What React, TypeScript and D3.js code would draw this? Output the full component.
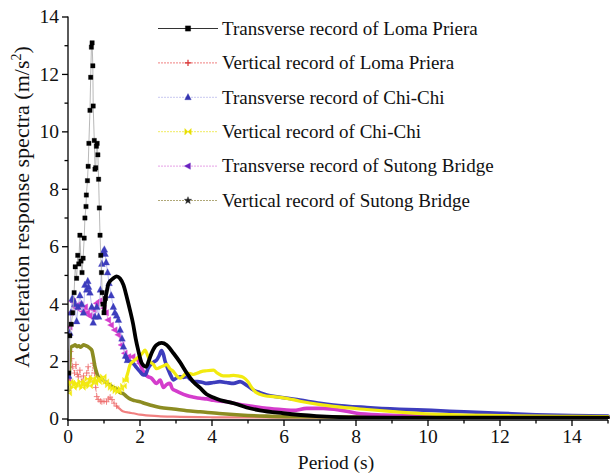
import React from 'react';
import * as d3 from 'd3';

type Pt = [number, number];

const periodTicks = [0, 2, 4, 6, 8, 10, 12, 14];
const accelTicks = [0, 2, 4, 6, 8, 10, 12, 14];
const periodMinor = [1, 3, 5, 7, 9, 11, 13, 15];
const accelMinor = [1, 3, 5, 7, 9, 11, 13];

const legendLabels = [
  'Transverse record of Loma Priera',
  'Vertical record of Loma Priera',
  'Transverse record of Chi-Chi',
  'Vertical record of Chi-Chi',
  'Transverse record of Sutong Bridge',
  'Vertical record of Sutong Bridge',
];

const lomaTransverse: Pt[] = [
  [0.02, 1.6], [0.05, 2.9], [0.09, 3.3], [0.13, 3.7], [0.17, 4.4], [0.2, 5.3], [0.24, 4.9], [0.27, 5.7],
  [0.3, 5.4], [0.33, 6.4], [0.36, 5.5], [0.39, 5.1], [0.42, 5.6], [0.45, 6.3], [0.47, 7.0], [0.5, 7.4],
  [0.51, 7.8], [0.54, 8.3], [0.56, 8.8], [0.58, 9.6], [0.61, 10.75], [0.63, 11.9], [0.65, 12.95], [0.67, 13.1],
  [0.69, 12.3], [0.7, 10.9], [0.73, 9.7], [0.75, 8.7], [0.77, 8.75], [0.79, 9.5], [0.81, 9.6], [0.83, 9.2],
  [0.85, 8.35], [0.87, 7.35], [0.89, 6.4], [0.91, 5.7], [0.93, 5.1], [0.95, 4.4], [0.97, 4.0], [1.0, 3.7],
  [1.04, 4.2], [1.07, 4.4], [1.12, 4.7], [1.17, 4.8], [1.26, 4.9], [1.35, 4.97], [1.44, 4.9], [1.54, 4.67],
  [1.63, 4.26], [1.72, 3.8], [1.81, 3.3], [1.88, 2.8], [1.95, 2.4], [2.05, 1.94], [2.17, 1.82], [2.25, 2.05],
  [2.32, 2.29], [2.46, 2.58], [2.6, 2.65], [2.74, 2.58], [2.93, 2.29], [3.11, 1.98], [3.3, 1.6], [3.48, 1.3],
  [3.67, 1.08], [3.85, 0.86], [4.04, 0.75], [4.22, 0.66], [4.6, 0.55], [4.96, 0.4], [5.33, 0.3], [5.98, 0.2],
  [6.9, 0.1], [7.8, 0.06], [9, 0.05], [12, 0.05], [15, 0.05],
];

const lomaVertical: Pt[] = [
  [0.01, 1.0], [0.04, 1.8], [0.07, 2.35], [0.1, 2.1], [0.13, 1.82], [0.18, 1.6], [0.22, 1.9], [0.26, 1.55],
  [0.29, 1.47], [0.33, 1.7], [0.38, 1.3], [0.43, 1.5], [0.47, 1.18], [0.52, 1.6], [0.56, 1.82], [0.6, 1.4],
  [0.64, 1.36], [0.7, 1.94], [0.74, 1.6], [0.77, 1.1], [0.8, 0.78], [0.84, 0.68], [0.9, 0.62], [0.94, 0.6],
  [1.0, 0.62], [1.07, 0.6], [1.12, 0.7], [1.17, 0.76], [1.22, 0.68], [1.28, 0.55], [1.35, 0.45], [1.44, 0.35],
  [1.54, 0.26], [1.7, 0.22], [1.81, 0.2], [2.0, 0.15], [2.5, 0.1], [2.93, 0.08], [4, 0.06], [6, 0.05], [15, 0.04],
];

const chiChiTransverse: Pt[] = [
  [0.02, 1.5], [0.05, 3.0], [0.08, 3.7], [0.12, 4.2], [0.15, 4.15], [0.19, 4.0], [0.24, 3.4], [0.28, 3.9],
  [0.33, 4.3], [0.38, 4.0], [0.43, 3.7], [0.47, 4.67], [0.52, 4.5], [0.55, 4.8], [0.57, 4.6], [0.61, 4.4],
  [0.66, 3.9], [0.7, 3.35], [0.75, 3.56], [0.8, 3.9], [0.85, 3.56], [0.9, 4.5], [0.94, 5.4], [0.98, 5.83],
  [1.01, 5.9], [1.03, 5.75], [1.06, 5.45], [1.1, 5.1], [1.14, 4.73], [1.2, 4.3], [1.26, 3.9], [1.3, 3.7],
  [1.35, 3.6], [1.4, 3.45], [1.45, 3.1], [1.5, 2.8], [1.54, 2.52], [1.6, 2.2], [1.65, 2.05], [1.73, 2.0],
  [1.81, 1.94], [1.9, 1.8], [2.0, 1.65], [2.07, 1.55], [2.14, 1.53], [2.22, 1.75], [2.3, 1.9], [2.4, 2.0],
  [2.46, 2.05], [2.53, 2.2], [2.6, 2.38], [2.65, 2.25], [2.7, 2.0], [2.79, 1.7], [2.86, 1.5], [2.93, 1.36],
  [3.0, 1.42], [3.11, 1.47], [3.2, 1.45], [3.3, 1.47], [3.4, 1.38], [3.48, 1.3], [3.6, 1.3], [3.75, 1.27],
  [3.85, 1.24], [4.04, 1.27], [4.22, 1.3], [4.4, 1.27], [4.6, 1.24], [4.78, 1.3], [4.96, 1.18], [5.15, 1.01],
  [5.33, 0.92], [5.52, 0.84], [6.0, 0.74], [6.44, 0.66], [7.0, 0.55], [7.37, 0.49], [8.3, 0.4], [9.2, 0.34],
  [10.1, 0.3], [11, 0.25], [12, 0.2], [13, 0.15], [14, 0.12], [15, 0.1],
];

const chiChiVertical: Pt[] = [
  [0.02, 0.9], [0.06, 1.3], [0.1, 1.25], [0.15, 1.1], [0.2, 1.2], [0.25, 1.25], [0.3, 1.15], [0.35, 1.3],
  [0.4, 1.1], [0.45, 1.2], [0.5, 1.25], [0.55, 1.4], [0.6, 1.15], [0.65, 1.3], [0.7, 1.42], [0.75, 1.25],
  [0.8, 1.36], [0.85, 1.3], [0.9, 1.4], [0.98, 1.47], [1.05, 1.3], [1.12, 1.18], [1.2, 1.1], [1.26, 1.05],
  [1.33, 0.98], [1.4, 0.95], [1.47, 1.05], [1.54, 1.15], [1.6, 1.35], [1.66, 1.6], [1.72, 1.88], [1.8, 2.0],
  [1.9, 2.1], [2.0, 2.2], [2.07, 2.3], [2.14, 2.4], [2.2, 2.25], [2.28, 2.0], [2.37, 1.9], [2.46, 1.75],
  [2.56, 1.8], [2.65, 1.85], [2.74, 1.9], [2.83, 1.75], [2.93, 1.65], [3.02, 1.5], [3.11, 1.42], [3.2, 1.5],
  [3.3, 1.6], [3.4, 1.58], [3.48, 1.55], [3.6, 1.6], [3.7, 1.65], [3.85, 1.68], [4.04, 1.7], [4.15, 1.6],
  [4.31, 1.5], [4.45, 1.5], [4.6, 1.52], [4.72, 1.5], [4.87, 1.45], [5.0, 1.3], [5.1, 1.1], [5.2, 0.95],
  [5.33, 0.86], [5.5, 0.8], [5.7, 0.78], [6.07, 0.72], [6.44, 0.62], [7.0, 0.5], [7.37, 0.44], [8.3, 0.33],
  [9.2, 0.24], [10.1, 0.17], [11, 0.14], [12, 0.12], [13, 0.1], [14, 0.09], [15, 0.08],
];

const sutongTransverse: Pt[] = [
  [0.02, 1.3], [0.05, 3.2], [0.08, 3.7], [0.12, 4.1], [0.15, 4.09], [0.2, 3.9], [0.25, 3.86], [0.3, 4.0],
  [0.36, 3.97], [0.42, 3.74], [0.48, 3.9], [0.54, 3.7], [0.6, 3.6], [0.66, 3.56], [0.72, 3.8], [0.8, 4.03],
  [0.87, 4.1], [0.94, 4.15], [1.0, 3.86], [1.06, 3.7], [1.12, 3.45], [1.2, 3.27], [1.3, 3.1], [1.4, 2.93],
  [1.49, 2.58], [1.58, 2.29], [1.68, 2.17], [1.8, 2.17], [1.95, 2.05], [2.0, 1.94], [2.05, 1.77], [2.12, 1.6],
  [2.19, 1.5], [2.32, 1.42], [2.46, 1.24], [2.56, 1.36], [2.65, 1.1], [2.74, 1.2], [2.83, 1.24], [2.9, 1.05],
  [3.0, 0.98], [3.1, 0.92], [3.3, 0.82], [3.5, 0.76], [3.67, 0.72], [3.85, 0.7], [4.04, 0.65], [4.41, 0.6],
  [4.78, 0.5], [5.06, 0.45], [5.52, 0.37], [6.0, 0.32], [6.26, 0.3], [6.63, 0.37], [7.09, 0.37], [7.56, 0.31],
  [8.02, 0.2], [8.76, 0.14], [10.1, 0.1], [12, 0.08], [15, 0.07],
];

const sutongVertical: Pt[] = [
  [0.02, 1.0], [0.05, 2.0], [0.08, 2.5], [0.1, 2.52], [0.15, 2.55], [0.2, 2.58], [0.25, 2.52], [0.3, 2.55],
  [0.35, 2.5], [0.43, 2.58], [0.5, 2.55], [0.56, 2.52], [0.62, 2.45], [0.66, 2.4], [0.7, 2.17], [0.75, 1.82],
  [0.8, 1.6], [0.84, 1.47], [0.9, 1.4], [0.98, 1.36], [1.08, 1.25], [1.17, 1.18], [1.26, 1.1], [1.35, 1.05],
  [1.44, 0.92], [1.54, 0.88], [1.63, 0.78], [1.72, 0.7], [1.85, 0.64], [2.0, 0.6], [2.14, 0.54], [2.28, 0.49],
  [2.56, 0.4], [2.93, 0.35], [3.3, 0.29], [3.67, 0.25], [4.2, 0.19], [4.78, 0.14], [5.5, 0.1], [6.5, 0.08],
  [8, 0.07], [10, 0.06], [15, 0.05],
];

type Marker = 'square' | 'plus' | 'triUp' | 'bowtie' | 'triLeft' | 'star';

interface SeriesStyle {
  data: Pt[];
  label: string;
  color: string;
  legendMarker: string;
  legendLine: string;
  legendDash: string;
  thinLine: string;
  marker: Marker;
  markerSize: number;
  bandFrom: number;
  bandWidth: number;
}

const series: SeriesStyle[] = [
  { data: lomaVertical, label: legendLabels[1], color: '#ee6a6a', legendMarker: '#d83030', legendLine: '#f08080', legendDash: '2,1', thinLine: '#f29090', marker: 'plus', markerSize: 3, bandFrom: 1.3, bandWidth: 2.2 },
  { data: sutongVertical, label: legendLabels[5], color: '#8c8c22', legendMarker: '#202020', legendLine: '#b0a878', legendDash: '2,1', thinLine: '#8c8c22', marker: 'star', markerSize: 3, bandFrom: 0, bandWidth: 3.6 },
  { data: sutongTransverse, label: legendLabels[4], color: '#d43ccc', legendMarker: '#6a22c0', legendLine: '#e6a0e6', legendDash: '2,1', thinLine: '#e690e0', marker: 'triLeft', markerSize: 3.2, bandFrom: 1.95, bandWidth: 3.6 },
  { data: chiChiTransverse, label: legendLabels[2], color: '#3d3dbd', legendMarker: '#3434b0', legendLine: '#c8c8f0', legendDash: '2,1', thinLine: '#b8b8ee', marker: 'triUp', markerSize: 3.4, bandFrom: 1.6, bandWidth: 3.6 },
  { data: chiChiVertical, label: legendLabels[3], color: '#f2ea10', legendMarker: '#e8e000', legendLine: '#f0ec60', legendDash: '2,1', thinLine: '#f4ee80', marker: 'bowtie', markerSize: 3, bandFrom: 1.55, bandWidth: 3.2 },
  { data: lomaTransverse, label: legendLabels[0], color: '#000000', legendMarker: '#000000', legendLine: '#333333', legendDash: '', thinLine: '#b0b0b0', marker: 'square', markerSize: 2.2, bandFrom: 1.0, bandWidth: 3.8 },
];

const legendOrder = [5, 0, 3, 4, 2, 1];

function markerPath(m: Marker, s: number): string {
  switch (m) {
    case 'square':
      return `M${-s},${-s}H${s}V${s}H${-s}Z`;
    case 'plus':
      return `M${-s},0H${s}M0,${-s}V${s}`;
    case 'triUp':
      return `M0,${-s * 1.15}L${s},${s * 0.75}L${-s},${s * 0.75}Z`;
    case 'triLeft':
      return `M${-s * 1.15},0L${s * 0.75},${-s}L${s * 0.75},${s}Z`;
    case 'bowtie':
      return `M${-s},${-s}L${s},${s}L${s},${-s}L${-s},${s}Z`;
    case 'star': {
      const pts: string[] = [];
      for (let i = 0; i < 10; i++) {
        const r = i % 2 === 0 ? s * 1.2 : s * 0.5;
        const a = -Math.PI / 2 + (i * Math.PI) / 5;
        pts.push(`${(r * Math.cos(a)).toFixed(2)},${(r * Math.sin(a)).toFixed(2)}`);
      }
      return `M${pts.join('L')}Z`;
    }
  }
}

export default function App() {
  const W = 613;
  const H = 476;
  const x = d3.scaleLinear().domain([0, 15]).range([68, 608]);
  const y = d3.scaleLinear().domain([0, 14]).range([419, 17]);
  const font = '"Liberation Serif", "Times New Roman", serif';

  const line = d3.line<Pt>().x((d) => x(d[0])).y((d) => y(d[1]));
  const smooth = d3.line<Pt>().x((d) => x(d[0])).y((d) => y(d[1])).curve(d3.curveMonotoneX);

  const legendY = (i: number) => 28.5 + i * 34.4;

  return (
    <svg width={W} height={H} style={{ position: 'absolute', left: 0, top: 0, background: '#fff' }} fontFamily={font}>
      <rect x={0} y={0} width={W} height={H} fill="#fff" />
      <defs>
        <clipPath id="plotClip">
          <rect x={x(0)} y={y(14) - 5} width={x(15) - x(0) + 2} height={y(0) - y(14) + 5} />
        </clipPath>
      </defs>

      <g clipPath="url(#plotClip)">
        {series.map((s, si) => {
          const noisy = s.data.filter((d) => d[0] <= s.bandFrom + 0.05);
          const band = s.data.filter((d) => d[0] >= s.bandFrom);
          const isRed = s.marker === 'plus';
          return (
            <g key={si}>
              {noisy.length > 1 && (
                <path d={line(noisy) || ''} fill="none" stroke={s.thinLine} strokeWidth={isRed ? 1 : 0.9} strokeDasharray={isRed ? '1.5,1' : ''} />
              )}
              {band.length > 1 && (
                <path d={smooth(band) || ''} fill="none" stroke={s.color} strokeWidth={s.bandWidth} strokeLinejoin="round" strokeLinecap="round" opacity={isRed ? 0.85 : 1} />
              )}
              {s.bandFrom > 0 &&
                noisy.map((d, i) => (
                  <path
                    key={i}
                    d={markerPath(s.marker, s.markerSize)}
                    transform={`translate(${x(d[0])},${y(d[1])})`}
                    fill={isRed ? 'none' : s.color}
                    stroke={s.color}
                    strokeWidth={isRed ? 0.8 : 0.3}
                  />
                ))}
            </g>
          );
        })}
      </g>

      <g stroke="#000" strokeWidth={1.3} fill="none">
        <line x1={x(0)} y1={y(14) - 0.5} x2={x(0)} y2={y(0) + 1} />
        <line x1={x(0) - 1} y1={y(0) + 1} x2={x(15)} y2={y(0) + 1} />
        {accelTicks.map((t) => (
          <line key={'ya' + t} x1={x(0) - 6} x2={x(0)} y1={y(t)} y2={y(t)} />
        ))}
        {accelMinor.map((t) => (
          <line key={'ym' + t} x1={x(0) - 3.5} x2={x(0)} y1={y(t)} y2={y(t)} />
        ))}
        {periodTicks.map((t) => (
          <line key={'xa' + t} x1={x(t)} x2={x(t)} y1={y(0) + 1} y2={y(0) + 7} />
        ))}
        {periodMinor.map((t) => (
          <line key={'xm' + t} x1={x(t)} x2={x(t)} y1={y(0) + 1} y2={y(0) + 4.5} />
        ))}
      </g>
      <g fontSize={19.5} fill="#111">
        {accelTicks.map((t) => (
          <text key={'yl' + t} x={x(0) - 9} y={y(t)} dy="0.33em" textAnchor="end">{t}</text>
        ))}
        {periodTicks.map((t) => (
          <text key={'xl' + t} x={x(t)} y={y(0) + 24} textAnchor="middle">{t}</text>
        ))}
      </g>
      <text x={x(7.5) - 2} y={469} fontSize={19.5} textAnchor="middle" fill="#111">Period (s)</text>
      <text transform={`translate(29,${207}) rotate(-90)`} fontSize={22} textAnchor="middle" fill="#111">
        Acceleration response spectra (m/s<tspan dy="-8" fontSize={14}>2</tspan><tspan dy="8">)</tspan>
      </text>

      <g>
        {legendOrder.map((si, row) => {
          const s = series[si];
          const ly = legendY(row);
          const isRed = s.marker === 'plus';
          return (
            <g key={row}>
              <line x1={158} x2={218} y1={ly} y2={ly} stroke={s.legendLine} strokeWidth={si === 5 ? 1.2 : 1} strokeDasharray={s.legendDash} />
              <path
                d={markerPath(s.marker, s.marker === 'square' ? 2.6 : 3.2)}
                transform={`translate(188,${ly})`}
                fill={isRed ? 'none' : s.legendMarker}
                stroke={s.legendMarker}
                strokeWidth={isRed ? 1.2 : 0.4}
              />
              <text x={222} y={ly} dy="0.33em" fontSize={19} fill="#111">{s.label}</text>
            </g>
          );
        })}
      </g>
    </svg>
  );
}
